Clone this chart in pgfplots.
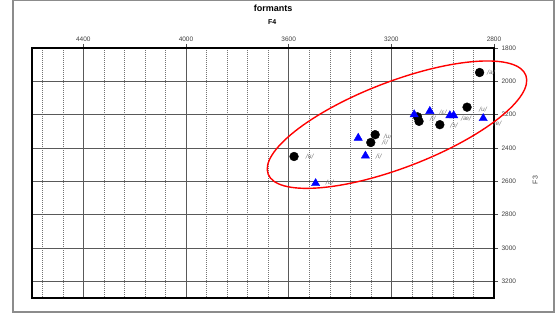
\documentclass[border=0pt]{standalone}
\usepackage{fontspec}
\setmainfont{Liberation Sans}
\newfontfamily\ipafont{DejaVu Sans}
\usepackage{pgfplots}
\usepackage{pgfplotstable}
\pgfplotsset{compat=1.18}

\pgfplotstableread{
x y
3579 2451
3263 2320
3280 2367
3098 2213
3092 2240
3011 2260
2905 2155
2856 1947
}\circles

\pgfplotstableread{
x y
3495 2612
3329 2340
3301 2447
3111 2199
3050 2179
2972 2205
2957 2205
2842 2222
}\triangles

\pgfplotstableread{
x y label
3518 2453 /u/
3214 2332 /u/
3225 2368 /i/
3038 2223 /i/
2999 2187 /ɛ/
2956 2266 /ɔ/
2909 2223 /æ/
2812 1946 /a/
3440 2610 /u/
3249 2453 /i/
2843 2169 /u/
2786 2256 /e/
}\labels

\begin{document}
\begin{tikzpicture}[x=1pt,y=1pt]
\useasboundingbox (0,0) rectangle (559,320);
\fill[white] (0,0) rectangle (559,320);
\draw[black!45, line width=1.2pt] (13,8) rectangle (554,319.4);
\begin{axis}[
  at={(32pt,22pt)}, anchor=south west,
  scale only axis, width=462pt, height=250pt,
  clip=false,
  x dir=reverse, y dir=reverse,
  xmin=2800, xmax=4600, ymin=1800, ymax=3300,
  xtick={2800,3200,...,4400},
  minor xtick={2880,2960,...,4560},
  ytick={1800,2000,...,3200},
  xtick pos=right, xticklabel pos=right,
  ytick pos=right, yticklabel pos=right,
  tick align=outside,
  major tick length=4pt, minor tick length=0pt,
  tick style={black!70, line width=0.6pt},
  xmajorgrids, ymajorgrids, xminorgrids,
  major grid style={black!65, line width=0.8pt},
  minor grid style={black!55, line width=0.45pt, dash pattern=on 1pt off 1pt},
  axis line style={black, line width=1.4pt},
  /pgf/number format/assume math mode=true,
  /pgf/number format/1000 sep={},
  ticklabel style={font=\fontsize{6.5}{7}\selectfont, text=black!75},
  xticklabel style={yshift=-1pt},
  xlabel={F4},
  xlabel style={at={(axis description cs:0.52,1.104)}, anchor=center, font=\fontsize{7}{8}\selectfont\bfseries},
  ylabel={F3},
  ylabel style={at={(axis description cs:1.089,0.472)}, anchor=center, font=\fontsize{7}{8}\selectfont, text=black!75},
]
\addplot[only marks, mark=*, mark size=4.4pt, black] table {\circles};
\addplot[only marks, mark=triangle*, mark size=4.8pt, draw=blue, fill=blue] table {\triangles};
\addplot[only marks, mark=none, point meta=explicit symbolic,
  nodes near coords, nodes near coords style={anchor=center, inner sep=0pt, font=\ipafont\itshape\fontsize{6}{6.5}\selectfont, text=black!55}]
  table[meta=label] {\labels};
\node[font=\fontsize{9}{10}\selectfont\bfseries, anchor=center] at (axis description cs:0.522,1.16) {formants};
\coordinate (ec) at (axis cs:3178,2260);
\end{axis}
\draw[red, line width=1.4pt, rotate around={21:(ec)}] (ec) ellipse [x radius=138pt, y radius=43pt];
\end{tikzpicture}
\end{document}
